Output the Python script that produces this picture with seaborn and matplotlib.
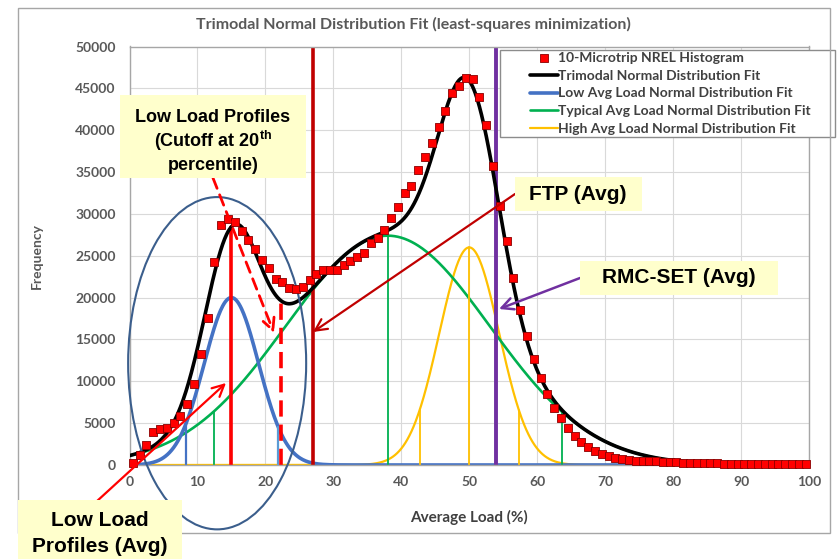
import numpy as np
import pandas as pd
import matplotlib
matplotlib.use("Agg")
import matplotlib.pyplot as plt
import seaborn as sns
from matplotlib.patches import Rectangle, Ellipse

# ---------------- data ----------------
load_bins = np.arange(0.5, 100.0, 1.0)          # histogram bin centres (%)
hist_freq = [200, 1190, 2440, 3900, 4260, 4450, 5000, 5840, 7280, 9660,
             13320, 17620, 24260, 28700, 29430, 29000, 27960, 26840, 25770, 24540,
             23540, 22230, 21900, 21180, 21080, 21270, 22150, 22780, 23340, 23340,
             23340, 23930, 24330, 24800, 25360, 26510, 27110, 28110, 29490, 30800,
             32550, 33390, 35260, 36850, 38430, 40420, 42330, 44440, 45310, 46190,
             46110, 44000, 40630, 35780, 30920, 26710, 22300, 18480, 15420, 12640,
             10410, 8430, 6830, 5640, 4370, 3460, 2780, 2180, 1710, 1310,
             1070, 870, 750, 600, 520, 490, 460, 420, 390, 350,
             300, 280, 260, 240, 220, 200, 180, 150, 140, 130,
             120, 110, 100, 100, 90, 90, 80, 80, 70, 70]

fit_labels = ["Low Avg Load Normal Distribution Fit",
              "Typical Avg Load Normal Distribution Fit",
              "High Avg Load Normal Distribution Fit"]
fit_means = [15.0, 38.0, 50.0]
fit_sigmas = [4.0, 15.0, 4.4]
fit_peaks = [20000, 27400, 26000]
fit_colors = ["#4472C4", "#00B050", "#FFC000"]

low_marks = [8.3, 21.9]
typ_marks = [12.4, 63.6]
high_marks = [42.7, 57.3]

low_avg = 15.0
cutoff_20th = 22.3
ftp_avg = 27.0
rmc_avg = 54.0

x_ticks = [0, 10, 20, 30, 40, 50, 60, 70, 80, 90, 100]
y_ticks = [0, 5000, 10000, 15000, 20000, 25000, 30000, 35000, 40000, 45000, 50000]

# ---------------- setup ----------------
W, H = 840, 559
sns.set_theme(style="whitegrid")
plt.rcParams["font.family"] = ["Lato", "DejaVu Sans"]
plt.rcParams["mathtext.fontset"] = "custom"
plt.rcParams["mathtext.rm"] = "Liberation Sans:bold"
plt.rcParams["mathtext.it"] = "Liberation Sans:bold"
plt.rcParams["mathtext.bf"] = "Liberation Sans:bold"

fig = plt.figure(figsize=(W / 100, H / 100), dpi=100)
fig.patch.set_facecolor("white")
L, R, T, B = 129.5, 809.0, 46.5, 465.0
ax = fig.add_axes([L / W, 1 - B / H, (R - L) / W, (B - T) / H])
ax.set_facecolor("white")


def px(x, y):
    return (x, H - y)


def gauss(x, m, s, a):
    return a * np.exp(-((np.asarray(x) - m) ** 2) / (2 * s * s))


x_fine = np.linspace(0, 100, 1001)
comps = [gauss(x_fine, m, s, a) for m, s, a in zip(fit_means, fit_sigmas, fit_peaks)]
total = comps[0] + comps[1] + comps[2]

# component curves
lws = [2.6, 1.9, 1.6]
order = [2, 1, 0]
for i in order:
    sns.lineplot(x=x_fine, y=comps[i], ax=ax, color=fit_colors[i], lw=lws[i],
                 zorder=2, label=fit_labels[i], sort=False)

# vertical lines of component fits
for xm, c in zip(low_marks, ["#4472C4", "#5B9BD5"]):
    ax.plot([xm, xm], [0, gauss(xm, fit_means[0], fit_sigmas[0], fit_peaks[0])],
            color=c, lw=1.6, zorder=2)
ax.plot([fit_means[0]] * 2, [0, fit_peaks[0]], color="#4472C4", lw=1.6, zorder=2)
for xm in typ_marks:
    ax.plot([xm, xm], [0, gauss(xm, fit_means[1], fit_sigmas[1], fit_peaks[1])],
            color="#00B050", lw=1.3, zorder=2)
ax.plot([fit_means[1]] * 2, [0, fit_peaks[1]], color="#00B050", lw=1.3, zorder=2)
for xm in high_marks:
    ax.plot([xm, xm], [0, gauss(xm, fit_means[2], fit_sigmas[2], fit_peaks[2])],
            color="#FFC000", lw=1.3, zorder=2)
ax.plot([fit_means[2]] * 2, [0, fit_peaks[2]], color="#FFC000", lw=1.3, zorder=2)

# average lines
ax.axvline(ftp_avg, color="#C00000", lw=2.6, zorder=2.5)
ax.axvline(rmc_avg, color="#7030A0", lw=2.8, zorder=2.5)
y_low = gauss(low_avg, fit_means[0], fit_sigmas[0], fit_peaks[0]) + \
    gauss(low_avg, fit_means[1], fit_sigmas[1], fit_peaks[1])
ax.plot([low_avg, low_avg], [0, y_low], color="#FF0000", lw=2.6, zorder=2.5)
y_cut = sum(gauss(cutoff_20th, m, s, a) for m, s, a in zip(fit_means, fit_sigmas, fit_peaks))
ax.plot([cutoff_20th, cutoff_20th], [0, y_cut], color="#FF0000", lw=2.6,
        dashes=(4.5, 2.2), zorder=2.5)

# trimodal total
sns.lineplot(x=x_fine, y=total, ax=ax, color="black", lw=2.6, zorder=3,
             label="Trimodal Normal Distribution Fit", sort=False)

# histogram markers
sns.scatterplot(x=load_bins, y=hist_freq, ax=ax, marker="s", s=36,
                color="#FF0000", edgecolor="#8B0000", linewidth=0.6, zorder=4,
                label="10-Microtrip NREL Histogram", clip_on=False)

# axes styling
ax.set_xlim(0, 100)
ax.set_ylim(0, 50000)
ax.set_xticks(x_ticks)
ax.set_yticks(y_ticks)
ax.set_xlabel("")
ax.set_ylabel("")
ax.grid(True, color="#D9D9D9", lw=0.8)
for sp in ax.spines.values():
    sp.set_color("#A6A6A6")
    sp.set_linewidth(1.0)
ax.tick_params(axis="both", length=0, labelsize=10, labelcolor="#595959")
ax.tick_params(axis="x", pad=8)
ax.tick_params(axis="y", pad=10)
for lab in ax.get_xticklabels() + ax.get_yticklabels():
    lab.set_fontweight("bold")

# legend (frame drawn as a separate rectangle in the axes, under the legend)
handles, labels = ax.get_legend_handles_labels()
want = ["10-Microtrip NREL Histogram", "Trimodal Normal Distribution Fit"] + fit_labels
hmap = dict(zip(labels, handles))
leg = ax.legend([hmap[w] for w in want], want, loc="upper left",
                bbox_to_anchor=(530 / W, 1 - 52 / H), bbox_transform=fig.transFigure,
                frameon=False, fontsize=10, borderpad=0, borderaxespad=0,
                handlelength=2.0, handletextpad=0.05, labelspacing=0.41,
                markerscale=1.0)
for t in leg.get_texts():
    t.set_color("#404040")
    t.set_fontweight("bold")
leg.set_zorder(10)
ax.add_patch(Rectangle(px(500, 137), 335, 87, transform=None, clip_on=False,
                       facecolor="white", edgecolor="#8C8C8C", lw=1.0, zorder=9))

# outer chart border
fig.patches.append(Rectangle(px(18, 533), 812, 525, transform=None, fill=False,
                             edgecolor="#A6A6A6", lw=1.0, zorder=0))

# title and axis titles
fig.text(413 / W, 1 - 24 / H, "Trimodal Normal Distribution Fit (least-squares minimization)",
         ha="center", va="center", fontsize=11.5, color="#595959", fontweight="bold")
fig.text(37 / W, 1 - 256 / H, "Frequency", rotation=90, ha="center", va="center",
         fontsize=10, color="#595959", fontweight="bold")
fig.text(469 / W, 1 - 517 / H, "Average Load (%)", ha="center", va="center",
         fontsize=11, color="#404040", fontweight="bold")

# ellipse around low-load region (data coords)
ax.add_patch(Ellipse((12.9, 12160), 26.2, 39700, fill=False, edgecolor="#3B5E8C",
                     lw=1.5, zorder=3.5, clip_on=False))

# annotation boxes
box_fc = "#FFFFCC"
afont = dict(family=["Liberation Sans", "DejaVu Sans"], fontweight="bold", color="black")


def box(x0, y0, x1, y1):
    fig.patches.append(Rectangle(px(x0, y1), x1 - x0, y1 - y0, transform=None,
                                 facecolor=box_fc, edgecolor="none", zorder=6))


box(120, 95, 306, 178)
fig.text(213 / W, 1 - 117 / H, "Low Load Profiles", ha="center", va="center",
         fontsize=13, zorder=7, **afont)
fig.text(213 / W, 1 - 141 / H, r"(Cutoff at 20$^{\mathrm{th}}$", ha="center", va="center",
         fontsize=13, zorder=7, **afont)
fig.text(213 / W, 1 - 165 / H, "percentile)", ha="center", va="center",
         fontsize=13, zorder=7, **afont)

box(515, 177, 642, 211)
fig.text(578 / W, 1 - 194 / H, "FTP (Avg)", ha="center", va="center",
         fontsize=15, zorder=7, **afont)

box(580, 261, 778, 295)
fig.text(679 / W, 1 - 278 / H, "RMC-SET (Avg)", ha="center", va="center",
         fontsize=15, zorder=7, **afont)

box(18, 500, 182, 562)
fig.text(100 / W, 1 - 520 / H, "Low Load", ha="center", va="center",
         fontsize=15, zorder=7, **afont)
fig.text(100 / W, 1 - 546 / H, "Profiles (Avg)", ha="center", va="center",
         fontsize=15, zorder=7, **afont)

# arrows (figure pixels)


def arrow(p0, p1, color, ls="-", lw=1.5):
    ax.annotate("", xy=px(*p1), xycoords="figure pixels", xytext=px(*p0),
                textcoords="figure pixels", annotation_clip=False,
                arrowprops=dict(arrowstyle="->,head_length=0.7,head_width=0.35",
                                color=color, lw=lw, linestyle=ls,
                                shrinkA=0, shrinkB=0), zorder=6)


arrow((213, 178), (274, 333), "#FF0000", ls=(0, (4, 2.5)), lw=2.0)
arrow((96, 502), (226, 383), "#FF0000", lw=1.6)
arrow((515, 194), (313, 332), "#C00000", lw=1.6)
arrow((580, 278), (499, 309), "#7030A0", lw=1.8)

fig.savefig("out.png", dpi=100)
